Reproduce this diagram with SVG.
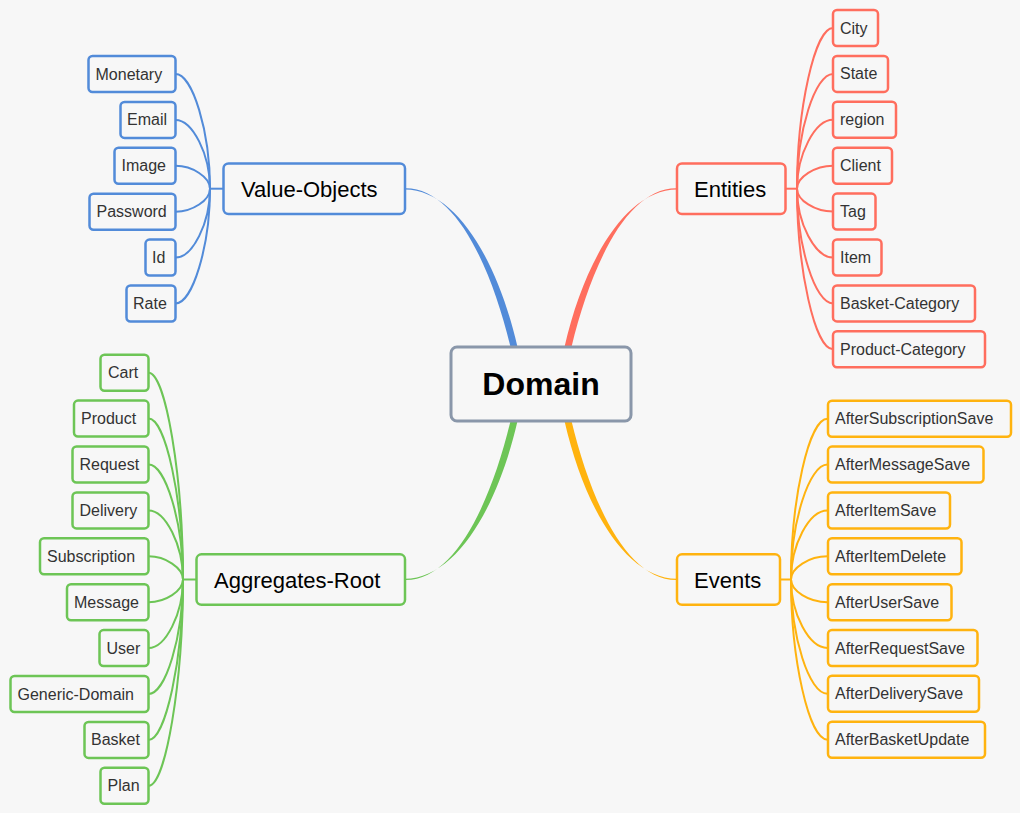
<svg xmlns="http://www.w3.org/2000/svg" width="1020" height="813" viewBox="0 0 1020 813">
<style>
text{font-family:"Liberation Sans",Arial,sans-serif}
.leaf{fill:#f7f7f7;stroke-width:2.5}
.lt{font-size:16px;fill:#333}
.cat{fill:#f7f7f7;stroke-width:2.5}
.ct{font-size:22px;fill:#000}
.c{fill:none;stroke-width:2}
.b{stroke:#528bd9}.r{stroke:#ff6e5e}.g{stroke:#6dc556}.o{stroke:#ffb30f}
</style>
<rect x="0" y="0" width="1020" height="813" fill="#f7f7f7"/>
<g id="connectors">
<path d="M405,188.3 C455,187.5 491,266 510.5,347 L517.5,347 C498,262 457,190 405,189.5 Z" fill="#528bd9"/>
<path d="M677,188.3 C627,187.5 591,266 571.5,347 L564.5,347 C584,262 625,190 677,189.5 Z" fill="#ff6e5e"/>
<path d="M405,580 C455,580.8 491,502 510.5,421 L517.5,421 C498,506 457,578.3 405,578.8 Z" fill="#6dc556"/>
<path d="M677,580 C627,580.8 591,502 571.5,421 L564.5,421 C584,506 625,578.3 677,578.8 Z" fill="#ffb30f"/>
<g class="c b">
<path d="M210,188.7 H223"/>
<path d="M175.5,74 C192.5,74 210,131.4 210,188.7"/>
<path d="M175.5,119.9 C192.5,119.9 210,154.3 210,188.7"/>
<path d="M175.5,165.8 C192.5,165.8 210,177.3 210,188.7"/>
<path d="M175.5,211.7 C192.5,211.7 210,200.2 210,188.7"/>
<path d="M175.5,257.6 C192.5,257.6 210,223.2 210,188.7"/>
<path d="M175.5,303.5 C192.5,303.5 210,246.1 210,188.7"/>
</g>
<g class="c r">
<path d="M785,188.7 H797"/>
<path d="M833,28 C815,28 797,108.4 797,188.7"/>
<path d="M833,73.9 C815,73.9 797,131.3 797,188.7"/>
<path d="M833,119.8 C815,119.8 797,154.3 797,188.7"/>
<path d="M833,165.7 C815,165.7 797,177.2 797,188.7"/>
<path d="M833,211.6 C815,211.6 797,200.2 797,188.7"/>
<path d="M833,257.5 C815,257.5 797,223.1 797,188.7"/>
<path d="M833,303.4 C815,303.4 797,246 797,188.7"/>
<path d="M833,349.3 C815,349.3 797,269 797,188.7"/>
</g>
<g class="c g">
<path d="M183,579.5 H196"/>
<path d="M148.5,372.7 C165.5,372.7 183,476 183,579.5"/>
<path d="M148.5,418.6 C165.5,418.6 183,499 183,579.5"/>
<path d="M148.5,464.5 C165.5,464.5 183,522 183,579.5"/>
<path d="M148.5,510.4 C165.5,510.4 183,545 183,579.5"/>
<path d="M148.5,556.3 C165.5,556.3 183,567.9 183,579.5"/>
<path d="M148.5,602.2 C165.5,602.2 183,590.8 183,579.5"/>
<path d="M148.5,648.1 C165.5,648.1 183,613.8 183,579.5"/>
<path d="M148.5,694 C165.5,694 183,636.7 183,579.5"/>
<path d="M148.5,739.9 C165.5,739.9 183,659.7 183,579.5"/>
<path d="M148.5,785.8 C165.5,785.8 183,682.6 183,579.5"/>
</g>
<g class="c o">
<path d="M780,579.5 H791"/>
<path d="M827.5,418.8 C809,418.8 791,499.1 791,579.5"/>
<path d="M827.5,464.6 C809,464.6 791,522 791,579.5"/>
<path d="M827.5,510.5 C809,510.5 791,545 791,579.5"/>
<path d="M827.5,556.3 C809,556.3 791,567.9 791,579.5"/>
<path d="M827.5,602.2 C809,602.2 791,590.8 791,579.5"/>
<path d="M827.5,648 C809,648 791,613.7 791,579.5"/>
<path d="M827.5,693.8 C809,693.8 791,636.6 791,579.5"/>
<path d="M827.5,739.7 C809,739.7 791,659.6 791,579.5"/>
</g>
</g>
<g id="domain"><rect x="451" y="347" width="180" height="74" rx="6" fill="#f7f7f7" stroke="#8a97aa" stroke-width="3"/><text x="541" y="395" text-anchor="middle" font-size="32" font-weight="bold" fill="#000">Domain</text></g>
<g id="value-objects"><rect class="cat b" x="223.5" y="163.5" width="181.5" height="50.5" rx="5"/><text class="ct" x="241" y="196.5">Value-Objects</text></g>
<g id="entities"><rect class="cat r" x="677" y="163.5" width="108.5" height="50.5" rx="5"/><text class="ct" x="694" y="196.5">Entities</text></g>
<g id="aggregates-root"><rect class="cat g" x="196.5" y="554.3" width="208.5" height="50.5" rx="5"/><text class="ct" x="214" y="587.5">Aggregates-Root</text></g>
<g id="events"><rect class="cat o" x="677" y="554.3" width="103" height="50.5" rx="5"/><text class="ct" x="694" y="587.5">Events</text></g>
<g id="monetary"><rect class="leaf b" x="88.5" y="56" width="87" height="36" rx="4"/><text class="lt" x="95.5" y="79.5">Monetary</text></g>
<g id="email"><rect class="leaf b" x="120.5" y="101.9" width="55" height="36" rx="4"/><text class="lt" x="127" y="125.4">Email</text></g>
<g id="image"><rect class="leaf b" x="114.5" y="147.8" width="61" height="36" rx="4"/><text class="lt" x="121.5" y="171.3">Image</text></g>
<g id="password"><rect class="leaf b" x="89.5" y="193.7" width="86" height="36" rx="4"/><text class="lt" x="96.5" y="217.2">Password</text></g>
<g id="id"><rect class="leaf b" x="145.5" y="239.6" width="30" height="36" rx="4"/><text class="lt" x="152" y="263.1">Id</text></g>
<g id="rate"><rect class="leaf b" x="126.5" y="285.5" width="49" height="36" rx="4"/><text class="lt" x="133" y="309">Rate</text></g>
<g id="city"><rect class="leaf r" x="833" y="10" width="45" height="36" rx="4"/><text class="lt" x="840" y="33.5">City</text></g>
<g id="state"><rect class="leaf r" x="833" y="55.9" width="55" height="36" rx="4"/><text class="lt" x="840" y="79.4">State</text></g>
<g id="region"><rect class="leaf r" x="833" y="101.8" width="63" height="36" rx="4"/><text class="lt" x="840" y="125.3">region</text></g>
<g id="client"><rect class="leaf r" x="833" y="147.7" width="59" height="36" rx="4"/><text class="lt" x="840" y="171.2">Client</text></g>
<g id="tag"><rect class="leaf r" x="833" y="193.6" width="42.5" height="36" rx="4"/><text class="lt" x="840" y="217.1">Tag</text></g>
<g id="item"><rect class="leaf r" x="833" y="239.5" width="48.5" height="36" rx="4"/><text class="lt" x="840" y="263">Item</text></g>
<g id="basket-category"><rect class="leaf r" x="833" y="285.4" width="142" height="36" rx="4"/><text class="lt" x="840" y="308.9">Basket-Category</text></g>
<g id="product-category"><rect class="leaf r" x="833" y="331.3" width="152" height="36" rx="4"/><text class="lt" x="840" y="354.8">Product-Category</text></g>
<g id="cart"><rect class="leaf g" x="100.5" y="354.7" width="48" height="36" rx="4"/><text class="lt" x="108" y="378.2">Cart</text></g>
<g id="product"><rect class="leaf g" x="74" y="400.6" width="74.5" height="36" rx="4"/><text class="lt" x="81" y="424.1">Product</text></g>
<g id="request"><rect class="leaf g" x="72.5" y="446.5" width="76" height="36" rx="4"/><text class="lt" x="79.5" y="470">Request</text></g>
<g id="delivery"><rect class="leaf g" x="72.5" y="492.4" width="76" height="36" rx="4"/><text class="lt" x="79.5" y="515.9">Delivery</text></g>
<g id="subscription"><rect class="leaf g" x="40" y="538.3" width="108.5" height="36" rx="4"/><text class="lt" x="47" y="561.8">Subscription</text></g>
<g id="message"><rect class="leaf g" x="67" y="584.2" width="81.5" height="36" rx="4"/><text class="lt" x="74" y="607.7">Message</text></g>
<g id="user"><rect class="leaf g" x="99.5" y="630.1" width="49" height="36" rx="4"/><text class="lt" x="106.5" y="653.6">User</text></g>
<g id="generic-domain"><rect class="leaf g" x="10.5" y="676" width="138" height="36" rx="4"/><text class="lt" x="17.5" y="699.5">Generic-Domain</text></g>
<g id="basket"><rect class="leaf g" x="84.5" y="721.9" width="64" height="36" rx="4"/><text class="lt" x="91" y="745.4">Basket</text></g>
<g id="plan"><rect class="leaf g" x="100.5" y="767.8" width="48" height="36" rx="4"/><text class="lt" x="107.5" y="791.3">Plan</text></g>
<g id="aftersubscriptionsave"><rect class="leaf o" x="828" y="400.8" width="183" height="36" rx="4"/><text class="lt" x="835" y="424.3">AfterSubscriptionSave</text></g>
<g id="aftermessagesave"><rect class="leaf o" x="828" y="446.6" width="155.5" height="36" rx="4"/><text class="lt" x="835" y="470.1">AfterMessageSave</text></g>
<g id="afteritemsave"><rect class="leaf o" x="828" y="492.5" width="122" height="36" rx="4"/><text class="lt" x="835" y="516">AfterItemSave</text></g>
<g id="afteritemdelete"><rect class="leaf o" x="828" y="538.3" width="133.5" height="36" rx="4"/><text class="lt" x="835" y="561.8">AfterItemDelete</text></g>
<g id="afterusersave"><rect class="leaf o" x="828" y="584.2" width="123.5" height="36" rx="4"/><text class="lt" x="835" y="607.7">AfterUserSave</text></g>
<g id="afterrequestsave"><rect class="leaf o" x="828" y="630" width="149.5" height="36" rx="4"/><text class="lt" x="835" y="653.5">AfterRequestSave</text></g>
<g id="afterdeliverysave"><rect class="leaf o" x="828" y="675.8" width="151" height="36" rx="4"/><text class="lt" x="835" y="699.3">AfterDeliverySave</text></g>
<g id="afterbasketupdate"><rect class="leaf o" x="828" y="721.7" width="157" height="36" rx="4"/><text class="lt" x="835" y="745.2">AfterBasketUpdate</text></g>
</svg>
